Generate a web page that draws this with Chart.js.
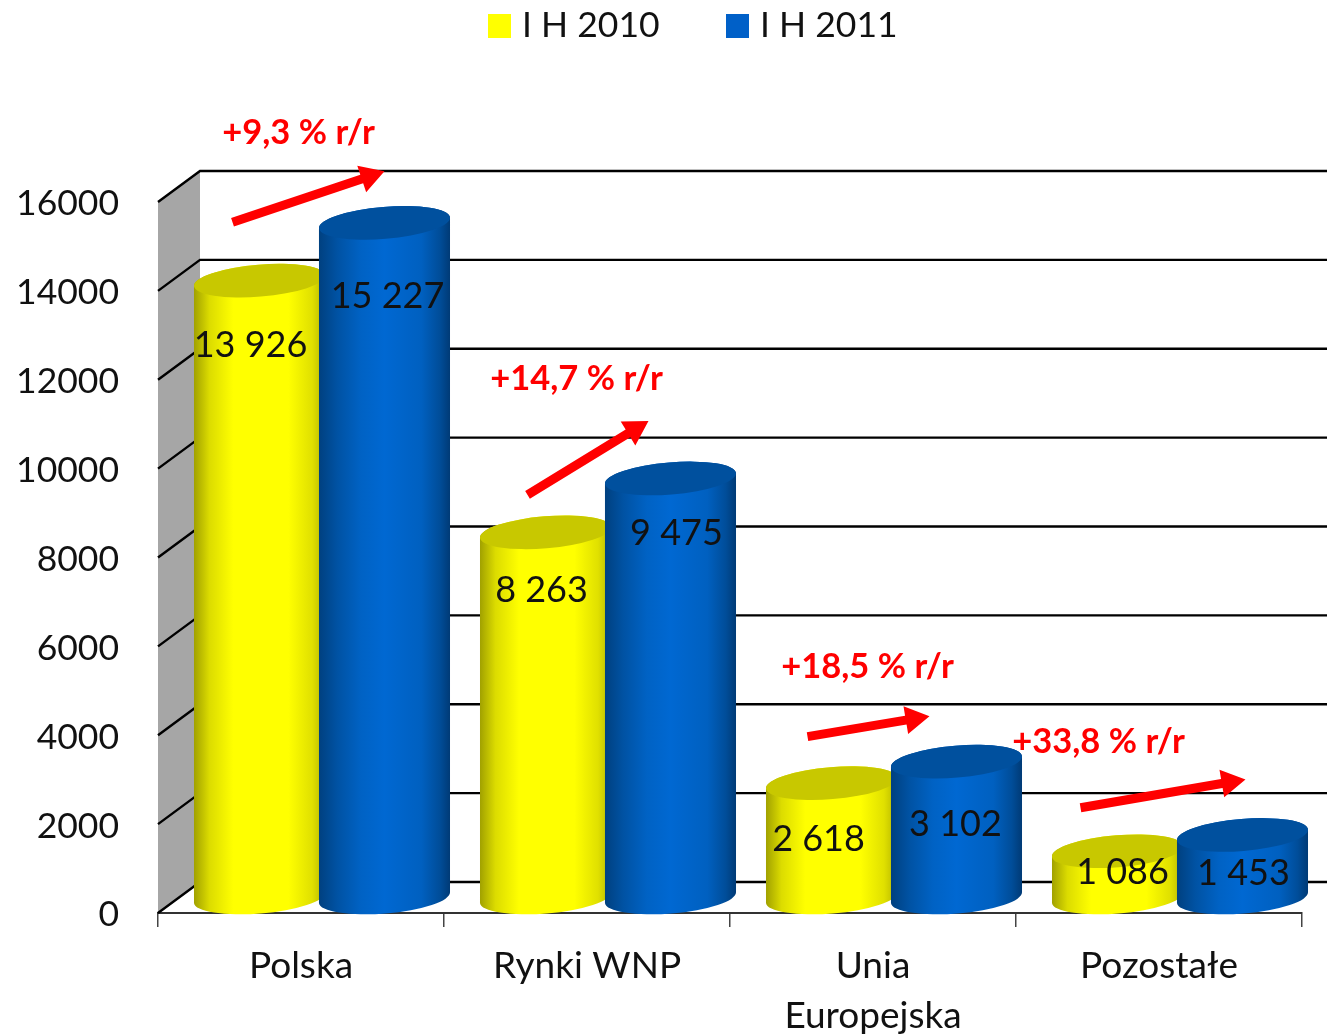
<!DOCTYPE html>
<html>
<head>
<meta charset="utf-8">
<title>I H 2010 / I H 2011</title>
<script src="https://cdn.jsdelivr.net/npm/chart.js@4"></script>
<style>
  html, body { margin: 0; padding: 0; background: #fff; }
  #wrap { width: 1327px; height: 1034px; }
</style>
</head>
<body>
<div id="wrap"><canvas id="chart"></canvas></div>
<script>
const categories = ["Polska", "Rynki WNP", ["Unia", "Europejska"], "Pozostałe"];
const seriesNames = ["I H 2010", "I H 2011"];
const values2010 = [13926, 8263, 2618, 1086];
const values2011 = [15227, 9475, 3102, 1453];
const growthLabels = ["+9,3 % r/r", "+14,7 % r/r", "+18,5 % r/r", "+33,8 % r/r"];

// hand placed stuff, px relative to the bars
const depth = { dx: 42, dy: 31 };
const labelShift2010 = [[-9, 51], [-4, 45], [-13, 43], [5, 8]];
const labelShift2011 = [[3, 60], [6, 41], [-1, 49], [1, 25]];
const arrowStart = [[-27, -72], [-18, -51], [-24, -60], [-37, -57]];
const arrowEnd = [[0, -65], [-22, -71], [-27, -59], [3, -69]];
const growthPos = [[-86, -103], [-94, -113], [-89, -108], [-144, -107]];

const FONT = "Lato, Carlito, sans-serif";
const TEXT = "#111";

function fmt(v) {
  return String(v).replace(/\B(?=(\d{3})+$)/g, " ");
}

function cylinder(ctx, bar, stops, topColor) {
  const cx = bar.x + depth.dx / 2;
  const rx = bar.width / 2;
  const ry = 16;
  const rot = -0.082;
  const top = bar.y - depth.dy / 2 + 2;
  const bottom = bar.base - depth.dy / 2;
  const g = ctx.createLinearGradient(cx - rx, 0, cx + rx, 0);
  stops.forEach(s => g.addColorStop(s[0], s[1]));
  ctx.beginPath();
  ctx.ellipse(cx, top, rx, ry, rot, Math.PI, 0);
  ctx.ellipse(cx, bottom, rx, ry, rot, 0, Math.PI);
  ctx.closePath();
  ctx.fillStyle = g;
  ctx.fill();
  ctx.beginPath();
  ctx.ellipse(cx, top, rx, ry, rot, 0, Math.PI * 2);
  ctx.fillStyle = topColor;
  ctx.fill();
}

function arrow(ctx, x0, y0, x1, y1) {
  const a = Math.atan2(y1 - y0, x1 - x0);
  const len = Math.hypot(x1 - x0, y1 - y0);
  ctx.save();
  ctx.translate(x0, y0);
  ctx.rotate(a);
  ctx.beginPath();
  ctx.moveTo(0, -4.5);
  ctx.lineTo(len - 24, -4.5);
  ctx.lineTo(len - 24, -14);
  ctx.lineTo(len, 0);
  ctx.lineTo(len - 24, 14);
  ctx.lineTo(len - 24, 4.5);
  ctx.lineTo(0, 4.5);
  ctx.closePath();
  ctx.fillStyle = "#ff0000";
  ctx.fill();
  ctx.restore();
}

const yellowStops = [[0, "#a0a000"], [0.12, "#dcdc00"], [0.3, "#ffff00"], [0.72, "#ffff00"], [0.9, "#e0e000"], [1, "#b4b400"]];
const blueStops = [[0, "#00407f"], [0.14, "#0052a3"], [0.32, "#0062c4"], [0.5, "#0068d2"], [0.78, "#0060c0"], [0.92, "#004d99"], [1, "#003a75"]];

const wall3d = {
  id: "wall3d",
  beforeDatasetsDraw(chart) {
    const ctx = chart.ctx;
    const y = chart.scales.y;
    const x = chart.scales.x;
    const left = x.left;
    const top = y.getPixelForValue(y.max);
    const bottom = y.getPixelForValue(0);
    ctx.save();
    ctx.beginPath();
    ctx.moveTo(left, top);
    ctx.lineTo(left + depth.dx, top - depth.dy);
    ctx.lineTo(left + depth.dx, bottom - depth.dy);
    ctx.lineTo(left, bottom);
    ctx.closePath();
    ctx.fillStyle = "#a6a6a6";
    ctx.fill();
    ctx.strokeStyle = "#000";
    ctx.lineWidth = 2.4;
    y.ticks.forEach(t => {
      const py = y.getPixelForValue(t.value);
      ctx.beginPath();
      ctx.moveTo(left, py);
      ctx.lineTo(left + depth.dx, py - depth.dy);
      ctx.lineTo(chart.width, py - depth.dy);
      ctx.stroke();
    });
    ctx.restore();
  },
  // bars are painted by hand in afterDatasetsDraw, yellow first so blue overlaps it
  beforeDatasetDraw() {
    return false;
  },
  afterDatasetsDraw(chart) {
    const ctx = chart.ctx;
    const yellow = chart.getDatasetMeta(0).data;
    const blue = chart.getDatasetMeta(1).data;
    ctx.save();
    yellow.forEach(b => cylinder(ctx, b, yellowStops, "#c8c800"));
    blue.forEach(b => cylinder(ctx, b, blueStops, "#00509e"));
    ctx.textAlign = "center";
    ctx.textBaseline = "middle";
    ctx.font = "36px " + FONT;
    ctx.fillStyle = TEXT;
    yellow.forEach((b, i) => {
      ctx.fillText(fmt(values2010[i]), b.x + depth.dx / 2 + labelShift2010[i][0], b.y + labelShift2010[i][1]);
    });
    blue.forEach((b, i) => {
      ctx.fillText(fmt(values2011[i]), b.x + depth.dx / 2 + labelShift2011[i][0], b.y + labelShift2011[i][1]);
    });
    yellow.forEach((b, i) => {
      const c = blue[i];
      arrow(ctx,
        b.x + depth.dx / 2 + arrowStart[i][0], b.y + arrowStart[i][1],
        c.x + depth.dx / 2 + arrowEnd[i][0], c.y + arrowEnd[i][1]);
    });
    ctx.font = "bold 34.5px " + FONT;
    ctx.fillStyle = "#ff0000";
    blue.forEach((c, i) => {
      ctx.fillText(growthLabels[i], c.x + depth.dx / 2 + growthPos[i][0], c.y + growthPos[i][1]);
    });
    // legend, the built in one keeps too wide a gap after the box
    ctx.font = "35.5px " + FONT;
    ctx.textAlign = "left";
    chart.data.datasets.forEach((d, i) => {
      const lx = 488 + i * 238;
      ctx.fillStyle = d.backgroundColor;
      ctx.fillRect(lx, 14, 23, 24);
      ctx.fillStyle = TEXT;
      ctx.fillText(d.label, lx + 34, 26);
    });
    ctx.restore();
  }
};

new Chart(document.getElementById("chart"), {
  type: "bar",
  data: {
    labels: categories,
    datasets: [
      { label: seriesNames[0], data: values2010, backgroundColor: "#ffff00" },
      { label: seriesNames[1], data: values2011, backgroundColor: "#0060c8" }
    ]
  },
  options: {
    responsive: true,
    maintainAspectRatio: false,
    animation: false,
    categoryPercentage: 0.874,
    barPercentage: 1.052,
    layout: { padding: { top: 202, right: 25, left: 0, bottom: 0 } },
    plugins: { legend: { display: false }, tooltip: { enabled: false } },
    scales: {
      x: {
        afterFit: s => { s.height = 121; },
        border: { color: "#333", width: 2 },
        grid: { drawOnChartArea: false, drawTicks: true, tickLength: 14, color: "#444", lineWidth: 1.5 },
        ticks: {
          color: TEXT,
          maxRotation: 0,
          autoSkip: false,
          padding: 14,
          font: { family: FONT, size: 37, lineHeight: 1.36 }
        }
      },
      y: {
        min: 0,
        max: 16000,
        afterFit: s => { s.width = 158; },
        border: { display: false },
        grid: { display: false, drawTicks: false },
        ticks: {
          stepSize: 2000,
          color: TEXT,
          padding: 39,
          labelOffset: 2,
          callback: v => String(v),
          font: { family: FONT, size: 35.5 }
        }
      }
    }
  },
  plugins: [wall3d]
});
</script>
</body>
</html>
